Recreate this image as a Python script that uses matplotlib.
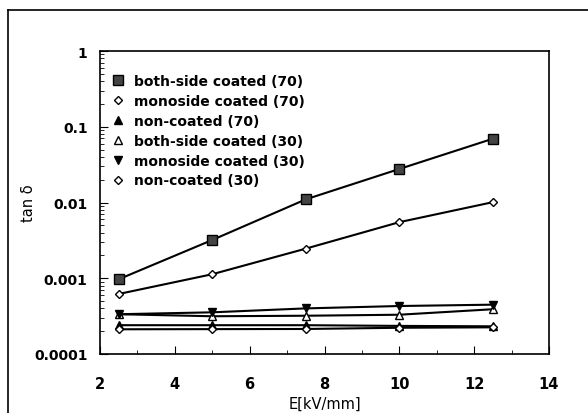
import matplotlib
matplotlib.use("Agg")
import matplotlib.pyplot as plt
from matplotlib.lines import Line2D
from matplotlib.ticker import MultipleLocator, LogLocator, NullFormatter, FixedLocator, FixedFormatter

E = [2.5, 5.0, 7.5, 10.0, 12.5]
both70 = [0.00097, 0.0032, 0.011, 0.0277, 0.0695]
mono70 = [0.00062, 0.00113, 0.00246, 0.0055, 0.0101]
non70 = [0.00024, 0.00024, 0.00024, 0.000235, 0.000232]
both30 = [0.000335, 0.000315, 0.00032, 0.00033, 0.00039]
mono30 = [0.000335, 0.000355, 0.0004, 0.00043, 0.000448]
non30 = [0.000212, 0.000213, 0.000214, 0.000222, 0.000225]

labels = ["both-side coated (70)", "monoside coated (70)", "non-coated (70)",
          "both-side coated (30)", "monoside coated (30)", "non-coated (30)"]
yticks = [0.0001, 0.001, 0.01, 0.1, 1]
yticklabels = ["0.0001", "0.001", "0.01", "0.1", "1"]

plt.rcParams['font.family'] = ['DejaVu Sans']
fig = plt.figure(figsize=(5.88, 4.14), dpi=100)
ax = fig.add_axes([100/588, 1-355/414, 449/588, 303/414])

styles = [
    dict(marker='s', ms=6.5, mfc='#444444', mec='black'),
    dict(marker='D', ms=4.5, mfc='white', mec='black'),
    dict(marker='^', ms=6, mfc='black', mec='black'),
    dict(marker='^', ms=6, mfc='white', mec='black'),
    dict(marker='v', ms=6, mfc='black', mec='black'),
    dict(marker='D', ms=4.5, mfc='white', mec='black'),
]
series = [both70, mono70, non70, both30, mono30, non30]
for s, lab, st in zip(series, labels, styles):
    ax.plot(E, s, color='black', lw=1.5, label=lab, mew=1.0, **st)

ax.set_yscale('log')
ax.set_xlim(2, 14)
ax.set_ylim(0.0001, 1)
ax.xaxis.set_major_locator(MultipleLocator(2))
ax.xaxis.set_minor_locator(MultipleLocator(1))
ax.yaxis.set_major_locator(FixedLocator(yticks))
ax.yaxis.set_major_formatter(FixedFormatter(yticklabels))
ax.yaxis.set_minor_locator(LogLocator(base=10, subs=range(2, 10)))
ax.yaxis.set_minor_formatter(NullFormatter())
ax.tick_params(which='both', direction='in', top=False, right=False)
ax.tick_params(axis='x', which='major', length=6, pad=16, labelsize=10.5)
ax.tick_params(axis='x', which='minor', length=3)
ax.tick_params(axis='y', which='major', length=6, pad=9, labelsize=10)
ax.tick_params(axis='y', which='minor', length=3)
for lab in ax.get_xticklabels() + ax.get_yticklabels():
    lab.set_fontweight('bold')
for sp in ax.spines.values():
    sp.set_linewidth(1.2)

ax.set_xlabel("E[kV/mm]", fontsize=10.5, labelpad=3)
ax.set_ylabel("tan δ", fontsize=10.5)
ax.yaxis.set_label_coords(-64/449, 0.5)

leg = ax.legend(loc='upper left', bbox_to_anchor=(0.005, 0.96), frameon=False,
                prop={'weight': 'bold', 'size': 10}, handlelength=0.6,
                handletextpad=0.9, labelspacing=0.42, borderaxespad=0.4)
for h in leg.legend_handles:
    h.set_linestyle('none')

# outer frame (top and left)
fig.add_artist(Line2D([8/588, 1.0], [1-11/414, 1-11/414], color='black', lw=1.2, transform=fig.transFigure))
fig.add_artist(Line2D([8/588, 8/588], [0.0, 1-11/414], color='black', lw=1.2, transform=fig.transFigure))

fig.savefig("out.png", dpi=100)
